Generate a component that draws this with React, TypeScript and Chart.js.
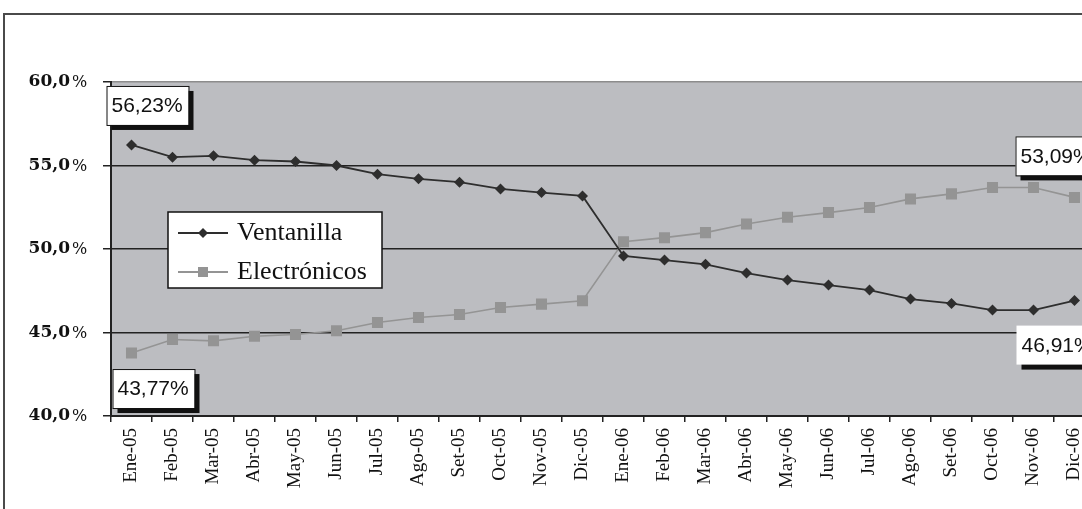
import { useEffect, useRef } from 'react';
import { Chart, registerables } from 'chart.js';

Chart.register(...registerables);

const categories = [
  'Ene-05', 'Feb-05', 'Mar-05', 'Abr-05', 'May-05', 'Jun-05', 'Jul-05', 'Ago-05', 'Set-05', 'Oct-05', 'Nov-05', 'Dic-05',
  'Ene-06', 'Feb-06', 'Mar-06', 'Abr-06', 'May-06', 'Jun-06', 'Jul-06', 'Ago-06', 'Set-06', 'Oct-06', 'Nov-06', 'Dic-06',
];
const ventanilla = [
  56.23, 55.5, 55.58, 55.32, 55.24, 55.0, 54.48, 54.2, 54.0, 53.6, 53.38, 53.18,
  49.58, 49.34, 49.08, 48.56, 48.14, 47.84, 47.54, 47.0, 46.74, 46.34, 46.34, 46.91,
];
const electronicos = [
  43.77, 44.58, 44.5, 44.78, 44.88, 45.1, 45.6, 45.9, 46.08, 46.5, 46.7, 46.9,
  50.44, 50.68, 50.98, 51.5, 51.9, 52.18, 52.48, 53.0, 53.3, 53.68, 53.68, 53.09,
];
const seriesNames = ['Ventanilla', 'Electrónicos'];
const yTicks = [40, 45, 50, 55, 60];

const fmtPct = (v: number, d: number) => v.toFixed(d).replace('.', ',');

export default function App() {
  const ref = useRef<HTMLCanvasElement>(null);

  useEffect(() => {
    const canvas = ref.current!;

    const framePlugin = {
      id: 'frame',
      beforeDraw(chart: any) {
        const { ctx, chartArea: a } = chart;
        ctx.save();
        ctx.fillStyle = '#ffffff';
        ctx.fillRect(0, 0, chart.width, chart.height);
        ctx.strokeStyle = '#4a4a4a';
        ctx.lineWidth = 2;
        ctx.beginPath();
        ctx.moveTo(4, chart.height + 5);
        ctx.lineTo(4, 14);
        ctx.lineTo(chart.width + 5, 14);
        ctx.stroke();
        ctx.fillStyle = '#bcbdc1';
        ctx.fillRect(a.left, a.top, a.right - a.left, a.bottom - a.top);
        ctx.restore();
      },
    };

    const yLabelPlugin = {
      id: 'ylabels',
      afterDraw(chart: any) {
        const { ctx } = chart;
        const ys = chart.scales.y;
        ctx.save();
        ctx.fillStyle = '#111';
        ctx.textBaseline = 'middle';
        yTicks.forEach((v) => {
          const y = ys.getPixelForValue(v);
          ctx.font = 'bold 17px "DejaVu Serif"';
          ctx.textAlign = 'right';
          ctx.fillText(fmtPct(v, 1), 70, y);
          ctx.font = '16px "DejaVu Serif"';
          ctx.textAlign = 'left';
          ctx.fillText('%', 72, y + 1);
        });
        ctx.restore();
      },
    };

    const legendPlugin = {
      id: 'customLegend',
      afterDraw(chart: any) {
        const { ctx } = chart;
        const bx = 168, by = 212, bw = 214, bh = 76;
        ctx.save();
        ctx.fillStyle = '#fff';
        ctx.fillRect(bx, by, bw, bh);
        ctx.strokeStyle = '#111';
        ctx.lineWidth = 1.5;
        ctx.strokeRect(bx, by, bw, bh);
        const rows = [233, 272];
        chart.data.datasets.forEach((ds: any, i: number) => {
          const y = rows[i];
          ctx.strokeStyle = ds.borderColor;
          ctx.lineWidth = 1.8;
          ctx.beginPath();
          ctx.moveTo(178, y);
          ctx.lineTo(228, y);
          ctx.stroke();
          ctx.fillStyle = ds.pointBackgroundColor;
          if (ds.pointStyle === 'rectRot') {
            ctx.beginPath();
            ctx.moveTo(203, y - 5);
            ctx.lineTo(208, y);
            ctx.lineTo(203, y + 5);
            ctx.lineTo(198, y);
            ctx.closePath();
            ctx.fill();
          } else {
            ctx.fillRect(198, y - 5, 10, 10);
          }
          ctx.fillStyle = '#111';
          ctx.font = '26px "Liberation Serif"';
          ctx.textAlign = 'left';
          ctx.textBaseline = 'middle';
          ctx.fillText(ds.label, 237, y);
        });
        ctx.restore();
      },
    };

    const boxes = [
      { ds: 0, idx: 0, dx: -25, dy: -59, border: true },
      { ds: 1, idx: 0, dx: -19, dy: 16, border: true },
      { ds: 1, idx: 23, dx: -59, dy: -61, border: true },
      { ds: 0, idx: 23, dx: -58, dy: 25, border: false },
    ];

    const dataLabelPlugin = {
      id: 'dataLabels',
      afterDatasetsDraw(chart: any) {
        const { ctx } = chart;
        ctx.save();
        boxes.forEach((b) => {
          const pt = chart.getDatasetMeta(b.ds).data[b.idx];
          const val = chart.data.datasets[b.ds].data[b.idx];
          const x = pt.x + b.dx;
          const y = pt.y + b.dy;
          const w = 82, h = 39;
          ctx.fillStyle = '#111';
          ctx.fillRect(x + 5, y + 5, w, h);
          ctx.fillStyle = '#fff';
          ctx.fillRect(x, y, w, h);
          if (b.border) {
            ctx.strokeStyle = '#111';
            ctx.lineWidth = 1;
            ctx.strokeRect(x + 0.5, y + 0.5, w, h);
          }
          ctx.fillStyle = '#111';
          ctx.font = '21px "Liberation Sans"';
          ctx.textAlign = 'left';
          ctx.textBaseline = 'middle';
          ctx.fillText(fmtPct(val, 2) + '%', x + 5, y + h / 2 + 1);
        });
        ctx.restore();
      },
    };

    const chart = new Chart(canvas, {
      type: 'line',
      data: {
        labels: categories,
        datasets: [
          {
            label: seriesNames[0],
            data: ventanilla,
            borderColor: '#2e2e2e',
            backgroundColor: '#2e2e2e',
            pointBackgroundColor: '#2e2e2e',
            pointBorderColor: '#2e2e2e',
            pointStyle: 'rectRot',
            pointRadius: 5.5,
            pointBorderWidth: 0,
            borderWidth: 1.8,
            tension: 0,
          },
          {
            label: seriesNames[1],
            data: electronicos,
            borderColor: '#949494',
            backgroundColor: '#949494',
            pointBackgroundColor: '#949494',
            pointBorderColor: '#949494',
            pointStyle: 'rect',
            pointRadius: 7.8,
            pointBorderWidth: 0,
            borderWidth: 1.6,
            tension: 0,
          },
        ],
      } as any,
      plugins: [framePlugin, yLabelPlugin, legendPlugin, dataLabelPlugin],
      options: {
        responsive: false,
        animation: false,
        devicePixelRatio: 1,
        layout: { padding: { left: 0, top: 82, right: 15, bottom: 0 } },
        plugins: { legend: { display: false }, tooltip: { enabled: false } },
        scales: {
          x: {
            type: 'category',
            offset: true,
            grid: {
              offset: true,
              drawOnChartArea: false,
              drawTicks: true,
              tickLength: 6,
              color: '#222',
              lineWidth: 1.5,
            },
            border: { display: true, color: '#222', width: 2 },
            ticks: {
              autoSkip: false,
              minRotation: 90,
              maxRotation: 90,
              padding: 6,
              color: '#111',
              font: { family: 'Liberation Serif', size: 19 },
            },
            afterFit: (s: any) => {
              s.height = 93;
            },
          },
          y: {
            min: 40,
            max: 60,
            ticks: { stepSize: 5, display: false },
            grid: {
              drawTicks: true,
              tickLength: 8,
              tickColor: '#222',
              color: (c: any) => (c.tick && c.tick.value === 60 ? '#8c8c8c' : '#222'),
              lineWidth: 1.5,
            },
            border: { display: true, color: '#222', width: 2 },
            afterFit: (s: any) => {
              s.width = 111;
            },
          },
        },
      } as any,
    });

    return () => chart.destroy();
  }, []);

  return (
    <div
      style={{
        position: 'fixed',
        left: 0,
        top: 0,
        width: 1082,
        height: 509,
        overflow: 'hidden',
        background: '#fff',
      }}
    >
      <canvas ref={ref} width={1110} height={509} style={{ display: 'block', width: 1110, height: 509 }} />
    </div>
  );
}
